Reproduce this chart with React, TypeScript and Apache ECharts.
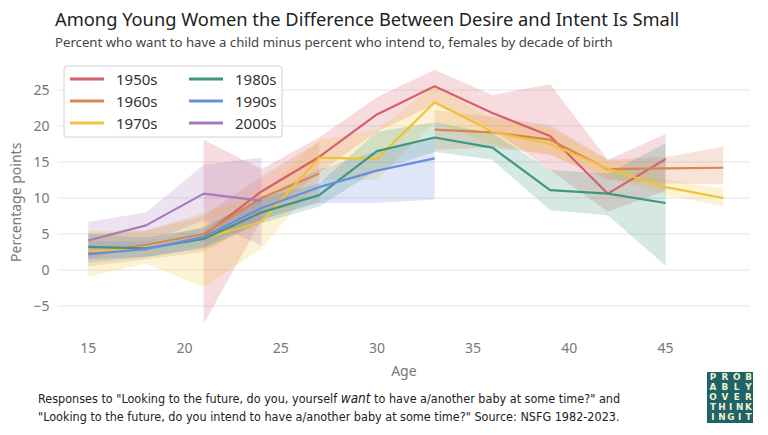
import { useEffect, useRef } from 'react';
import * as echarts from 'echarts';

// ages (every 3 years) and decade-of-birth cohorts
const ages = [15, 18, 21, 24, 27, 30, 33, 36, 39, 42, 45, 48];
const cohorts = ['1950s', '1960s', '1970s', '1980s', '1990s', '2000s'];
const colors = ['#d6606b', '#d98650', '#f0c23a', '#3f987d', '#6b8de0', '#a87ab9'];

// want minus intend, percentage points (null = no estimate)
const v1950 = [null, null, 4.8, 10.9, 15.7, 21.6, 25.5, 21.8, 18.6, 10.6, 15.4, null];
const v1960 = [2.3, 3.5, 5.0, 10.0, 13.4, null, 19.5, 19.1, 18.1, 14.0, 14.1, 14.2];
const v1970 = [2.6, 3.0, 4.4, 6.7, 15.6, 15.4, 23.3, 19.2, 17.5, 14.1, 11.5, 10.0];
const v1980 = [3.2, 3.0, 4.3, 8.0, 10.4, 16.5, 18.4, 17.0, 11.1, 10.6, 9.3, null];
const v1990 = [2.2, 2.9, 4.6, 8.6, 11.5, 13.8, 15.5, null, null, null, null, null];
const v2000 = [4.1, 6.2, 10.6, 9.6, null, null, null, null, null, null, null, null];

// interval bounds
const lo1950 = [null, null, -7.5, 7.0, 13.5, 19.2, 23.0, 19.5, 13.9, 8.1, 11.0, null];
const hi1950 = [null, null, 18.1, 14.0, 18.4, 24.0, 27.8, 24.3, 25.8, 15.3, 18.9, null];
const lo1960 = [0.5, 1.5, 2.5, 7.0, 9.5, null, 16.7, 17.0, 16.0, 12.5, 12.0, 11.9];
const hi1960 = [5.0, 5.5, 7.5, 13.0, 17.8, null, 22.2, 21.3, 20.1, 15.3, 15.7, 17.1];
const lo1970 = [-0.9, 0.9, -2.4, 3.0, 12.5, 12.5, 20.5, 17.5, 16.0, 13.0, 10.4, 8.8];
const hi1970 = [5.5, 5.5, 8.0, 10.5, 18.0, 19.5, 25.5, 21.0, 19.5, 15.3, 12.6, 11.3];
const lo1980 = [1.5, 1.8, 3.0, 6.5, 8.8, 13.9, 16.4, 15.3, 8.3, 7.6, 0.6, null];
const hi1980 = [5.0, 4.5, 5.8, 10.0, 12.0, 19.2, 20.5, 19.0, 13.9, 13.4, 17.6, null];
const lo1990 = [1.0, 1.8, 3.2, 7.0, 9.3, 9.3, 9.8, null, null, null, null, null];
const hi1990 = [4.0, 4.0, 6.0, 10.0, 14.0, 16.5, 18.5, null, null, null, null, null];
const lo2000 = [1.5, 3.7, 6.9, 3.4, null, null, null, null, null, null, null, null];
const hi2000 = [6.7, 8.0, 14.6, 15.6, null, null, null, null, null, null, null, null];

const xTicks = [15, 20, 25, 30, 35, 40, 45];
const yTicks = [-5, 0, 5, 10, 15, 20, 25];

const logoLines = ['PROB', 'ABLY', 'OVER', 'THINK', 'INGIT'];

const FONT = '"Noto Sans", "Open Sans", sans-serif';
const NARROW = '"DejaVu Sans Condensed", "Liberation Sans Narrow", sans-serif';

// contiguous runs of non-null bounds
function runs(lo: (number | null)[], hi: (number | null)[]) {
  const out: number[][] = [];
  let cur: number[] = [];
  ages.forEach((_, k) => {
    if (lo[k] == null || hi[k] == null) {
      if (cur.length) out.push(cur);
      cur = [];
    } else cur.push(k);
  });
  if (cur.length) out.push(cur);
  return out;
}

export default function App() {
  const elRef = useRef<HTMLDivElement | null>(null);

  useEffect(() => {
    const el = elRef.current;
    if (!el) return;
    const chart = echarts.init(el, undefined, { renderer: 'svg' });

    const values = [v1950, v1960, v1970, v1980, v1990, v2000];
    const lows = [lo1950, lo1960, lo1970, lo1980, lo1990, lo2000];
    const highs = [hi1950, hi1960, hi1970, hi1980, hi1990, hi2000];

    const series: any[] = [];
    cohorts.forEach((name, i) => {
      const lo = lows[i];
      const hi = highs[i];
      const segs = runs(lo, hi);
      series.push({
        name: name + ' band',
        type: 'custom',
        silent: true,
        z: 1,
        data: segs.map((_, s) => [ages[segs[s][0]], lo[segs[s][0]], s]),
        encode: { x: 0, y: 1 },
        renderItem: (params: any, api: any) => {
          const idx = segs[params.dataIndex];
          const top = idx.map((k) => api.coord([ages[k], hi[k]]));
          const bot = idx.map((k) => api.coord([ages[k], lo[k]])).reverse();
          return {
            type: 'polygon',
            shape: { points: top.concat(bot) },
            style: { fill: colors[i], opacity: 0.22 },
          };
        },
      });
    });
    cohorts.forEach((name, i) => {
      series.push({
        name,
        type: 'line',
        data: ages.map((a, k) => [a, values[i][k]]),
        symbol: 'none',
        color: colors[i],
        lineStyle: { width: 2.2, color: colors[i] },
        z: 3,
      });
    });

    const legendBase = {
      orient: 'vertical',
      top: 70,
      padding: 0,
      itemGap: 4,
      itemWidth: 34,
      itemHeight: 3,
      icon: 'rect',
      z: 6,
      textStyle: { fontFamily: FONT, fontSize: 15, color: '#333', lineHeight: 18, padding: [0, 0, 0, 7] },
    };

    const logo: any[] = [
      { type: 'rect', shape: { x: 707, y: 372, width: 46, height: 51 }, style: { fill: '#1d6367' } },
    ];
    logoLines.forEach((line, r) => {
      const chars = line.split('');
      chars.forEach((c, k) => {
        const x = 713 + (chars.length > 1 ? (k * 35.5) / (chars.length - 1) : 0);
        logo.push({
          type: 'text',
          x,
          y: 377 + r * 10.1,
          style: {
            text: c,
            fill: '#f6f1cf',
            font: 'bold 8.8px "DejaVu Sans", sans-serif',
            align: 'center',
            verticalAlign: 'middle',
          },
        });
      });
    });

    chart.setOption({
      animation: false,
      backgroundColor: '#fff',
      title: {
        left: 55,
        top: 9,
        text: 'Among Young Women the Difference Between Desire and Intent Is Small',
        subtext: 'Percent who want to have a child minus percent who intend to, females by decade of birth',
        itemGap: 8,
        padding: 0,
        textStyle: { fontFamily: FONT, fontSize: 18.3, fontWeight: 'normal', color: '#222' },
        subtextStyle: { fontFamily: FONT, fontSize: 13.2, color: '#444' },
      },
      grid: { left: 57.5, right: 17.8, top: 69.8, bottom: 100.2, outerBoundsMode: 'none' },
      legend: [
        { ...legendBase, left: 70, data: cohorts.slice(0, 3) },
        { ...legendBase, left: 189, data: cohorts.slice(3) },
      ],
      xAxis: {
        type: 'value',
        min: 13.4,
        max: 49.4,
        name: 'Age',
        nameLocation: 'middle',
        nameGap: 29,
        nameTextStyle: { fontFamily: FONT, fontSize: 14, color: '#777' },
        axisLine: { show: false },
        axisTick: { show: false, customValues: xTicks },
        splitLine: { show: false },
        axisLabel: { customValues: xTicks, fontFamily: FONT, fontSize: 14, color: '#777', margin: 6 },
      },
      yAxis: {
        type: 'value',
        min: -9,
        max: 27.8,
        name: 'Percentage points',
        nameLocation: 'middle',
        nameGap: 31,
        nameTextStyle: { fontFamily: FONT, fontSize: 14, color: '#777' },
        axisLine: { show: false },
        axisTick: { show: false, customValues: yTicks },
        splitLine: { show: true, lineStyle: { color: '#ececec', width: 1.5 } },
        axisLabel: {
          customValues: yTicks,
          fontFamily: FONT,
          fontSize: 14,
          color: '#777',
          margin: 8,
          formatter: (v: number) => String(v).replace('-', '\u2212'),
        },
      },
      graphic: [
        {
          type: 'rect',
          z: 5,
          shape: { x: 64, y: 66, width: 218, height: 71, r: 3 },
          style: { fill: '#fff', stroke: '#d2d2d2', lineWidth: 1 },
        },
        {
          type: 'text',
          x: 38,
          y: 398,
          style: {
            text: 'Responses to "Looking to the future, do you, yourself {i|want} to have a/another baby at some time?" and',
            font: '12.5px ' + NARROW,
            fill: '#222',
            verticalAlign: 'middle',
            rich: {
              i: { fontStyle: 'italic', fontSize: 13.5, fontFamily: NARROW, fill: '#222' },
            },
          },
        },
        {
          type: 'text',
          x: 38,
          y: 416,
          style: {
            text: '"Looking to the future, do you intend to have a/another baby at some time?" Source: NSFG 1982-2023.',
            font: '12.5px ' + NARROW,
            fill: '#222',
            verticalAlign: 'middle',
          },
        },
        ...logo,
      ],
      series,
    });

    return () => {
      chart.dispose();
    };
  }, []);

  return (
    <div
      ref={elRef}
      style={{ position: 'fixed', left: 0, top: 0, width: 768, height: 435 }}
    />
  );
}
